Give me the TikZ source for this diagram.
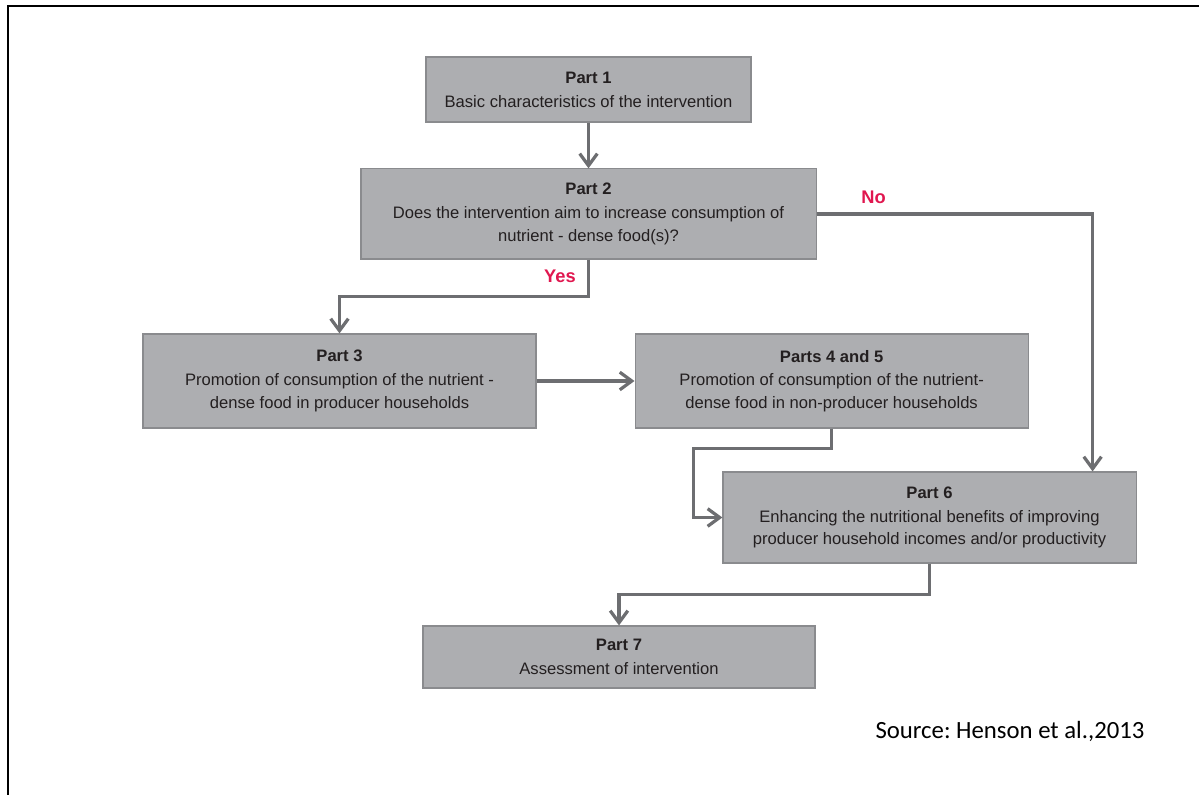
\documentclass[tikz,border=0pt]{standalone}
\usepackage{fontspec}
\setmainfont{Liberation Sans}
\newfontfamily\calibrifont{Carlito}
\usetikzlibrary{arrows.meta,positioning}
\definecolor{boxgray}{HTML}{ADAEB1}
\definecolor{boxedge}{HTML}{8A8B8E}
\definecolor{flowgray}{HTML}{6D6E71}
\definecolor{textdark}{HTML}{231F20}
\definecolor{answerred}{HTML}{E0174F}
\tikzset{
  partbox/.style={draw=boxedge, fill=boxgray, line width=0.8pt, align=center, text=textdark, font=\fontsize{11.8}{16}\selectfont, inner sep=2pt},
  flow/.style={draw=flowgray, line width=2.3pt, -{Straight Barb[length=3mm,width=4.4mm]}},
  answer/.style={text=answerred, font=\fontsize{13}{15}\selectfont\bfseries}
}

\begin{document}
\frenchspacing
\begin{tikzpicture}[x=0.025cm, y=-0.025cm, node distance=2cm]
        \useasboundingbox (0,0) rectangle (1199,795);
        % Frame
        \draw[line width=1.4pt] (8,795) -- (8,6) -- (1199,6);

        % Nodes
        \node (p1) [partbox, minimum width=8.125cm, minimum height=1.625cm] at (588.5,89.5) {\textbf{Part 1}\\[1pt]Basic characteristics of the intervention};
        \node (p2) [partbox, minimum width=11.375cm, minimum height=2.25cm, below of=p1, node distance=3.11cm] {\textbf{Part 2}\\[1pt]Does the intervention aim to increase consumption of\\nutrient - dense food(s)?};
        \node (p3) [partbox, minimum width=9.825cm, minimum height=2.35cm] at (339.5,381) {\textbf{Part 3}\\[1pt]Promotion of consumption of the nutrient -\\dense food in producer households};
        \node (p45) [partbox, minimum width=9.825cm, minimum height=2.35cm, right of=p3, node distance=12.3cm] {\textbf{Parts 4 and 5}\\[1pt]Promotion of consumption of the nutrient-\\dense food in non-producer households};
        \node (p6) [partbox, minimum width=10.325cm, minimum height=2.275cm] at (929.5,517.5) {\textbf{Part 6}\\[1pt]Enhancing the nutritional benefits of improving\\producer household incomes and/or productivity};
        \node (p7) [partbox, minimum width=9.8cm, minimum height=1.55cm] at (619,657) {\textbf{Part 7}\\[1pt]Assessment of intervention};
        \node (yes) [answer] at (560,276) {Yes};
        \node (no) [answer] at (873.5,197) {No};
        \node (source) [font=\calibrifont\fontsize{17.6}{20}\selectfont] at (1010,731) {Source: Henson et al.,2013};

        % Edges
        \draw[flow] (p1) -- (p2);
        \draw[flow] (p2.south) -- ++(0,37) -| (p3.north);
        \draw[flow] (p2.east) -| ([xshift=-1.1cm]p6.north east);
        \draw[flow] (p3) -- (p45);
        \draw[flow] (p45.south) -- ++(0,20) -- ++(-138,0) |- (p6.west);
        \draw[flow] (p6.south) -- ++(0,31) -| (p7.north);
\end{tikzpicture}
\end{document}
